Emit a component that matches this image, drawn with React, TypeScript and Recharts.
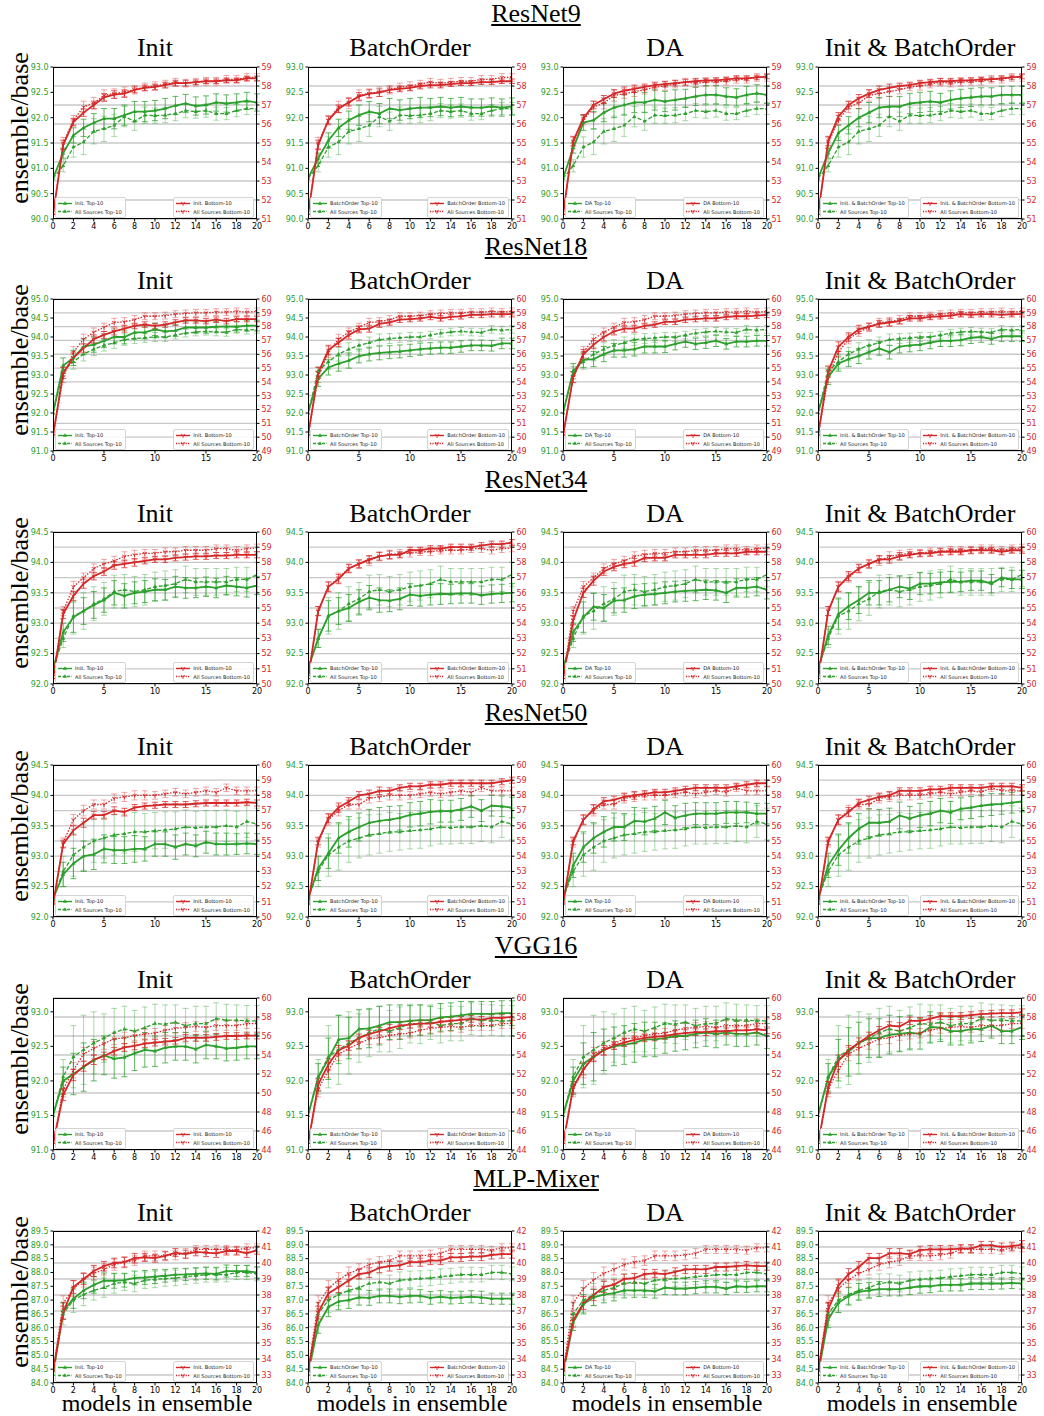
import React from 'react';
import { ComposedChart, Line, XAxis, YAxis, CartesianGrid, ErrorBar } from 'recharts';

const GREEN = '#2ca02c';
const RED = '#d62728';
const SERIF = '"Liberation Serif", "Times New Roman", serif';
const SANS = '"DejaVu Sans", sans-serif';

const models = [0, 1, 2, 3, 4, 5, 6, 7, 8, 9, 10, 11, 12, 13, 14, 15, 16, 17, 18, 19, 20];
const methodTitles = ['Init', 'BatchOrder', 'DA', 'Init & BatchOrder'];
const legendNames = ['Init.', 'BatchOrder', 'DA', 'Init. & BatchOrder'];
const xTicksEven = [0, 2, 4, 6, 8, 10, 12, 14, 16, 18, 20];
const xTicksFive = [0, 5, 10, 15, 20];

// ResNet9
const r9LeftTicks = [90, 90.5, 91, 91.5, 92, 92.5, 93];
const r9RightTicks = [51, 52, 53, 54, 55, 56, 57, 58, 59];
const r9AllTop = [90.8, 91.05, 91.42, 91.52, 91.73, 91.78, 91.85, 92.02, 91.93, 92.05, 92.04, 92.05, 92.08, 92.14, 92.12, 92.14, 92.08, 92.08, 92.14, 92.18, 92.18];
const r9AllBot = [51.2, 55.0, 56.2, 56.9, 57.1, 57.5, 57.6, 57.7, 57.8, 57.95, 58.0, 58.1, 58.2, 58.15, 58.2, 58.25, 58.25, 58.35, 58.35, 58.45, 58.45];
const r9InitTop = [90.8, 91.3, 91.65, 91.8, 91.9, 91.98, 91.98, 92.05, 92.12, 92.12, 92.14, 92.18, 92.24, 92.28, 92.23, 92.25, 92.3, 92.28, 92.3, 92.33, 92.3];
const r9InitBot = [51.2, 54.9, 56.1, 56.6, 57.0, 57.4, 57.55, 57.6, 57.8, 57.9, 57.95, 58.05, 58.15, 58.15, 58.2, 58.25, 58.25, 58.3, 58.3, 58.4, 58.4];
const r9BoTop = [90.8, 91.2, 91.55, 91.8, 91.95, 92.05, 92.12, 92.08, 92.18, 92.15, 92.18, 92.2, 92.2, 92.22, 92.2, 92.22, 92.2, 92.2, 92.22, 92.2, 92.22];
const r9BoBot = [51.2, 54.9, 56.2, 56.8, 57.15, 57.45, 57.6, 57.65, 57.8, 57.85, 57.9, 58.0, 58.05, 58.05, 58.1, 58.15, 58.15, 58.2, 58.2, 58.25, 58.25];
const r9DaTop = [90.8, 91.4, 91.9, 91.95, 92.1, 92.2, 92.25, 92.3, 92.3, 92.35, 92.32, 92.35, 92.38, 92.42, 92.45, 92.45, 92.42, 92.4, 92.45, 92.48, 92.45];
const r9DaBot = [51.2, 55.1, 56.3, 57.0, 57.3, 57.6, 57.75, 57.85, 57.95, 58.05, 58.1, 58.15, 58.2, 58.25, 58.3, 58.3, 58.35, 58.4, 58.4, 58.45, 58.5];
const r9IbTop = [90.8, 91.3, 91.7, 91.85, 92.0, 92.1, 92.2, 92.22, 92.22, 92.28, 92.3, 92.32, 92.3, 92.35, 92.38, 92.4, 92.42, 92.42, 92.45, 92.45, 92.45];
const r9IbBot = [51.2, 55.1, 56.4, 57.0, 57.35, 57.6, 57.8, 57.9, 58.0, 58.05, 58.15, 58.2, 58.25, 58.25, 58.3, 58.3, 58.35, 58.35, 58.4, 58.45, 58.5];
const r9ErrAllTop = [0, 0.12, 0.2, 0.25, 0.25, 0.25, 0.22, 0.2, 0.18, 0.16, 0.15, 0.15, 0.14, 0.14, 0.13, 0.13, 0.13, 0.12, 0.12, 0.12, 0.12];
const r9ErrAllBot = [0, 0.3, 0.25, 0.3, 0.3, 0.3, 0.25, 0.25, 0.22, 0.2, 0.22, 0.2, 0.2, 0.2, 0.2, 0.2, 0.2, 0.2, 0.2, 0.2, 0.2];
const r9ErrTop = [0, 0.1, 0.15, 0.17, 0.18, 0.2, 0.2, 0.2, 0.2, 0.2, 0.2, 0.2, 0.18, 0.18, 0.18, 0.18, 0.17, 0.17, 0.17, 0.17, 0.17];
const r9ErrBot = [0, 0.25, 0.2, 0.2, 0.2, 0.2, 0.2, 0.2, 0.15, 0.15, 0.15, 0.15, 0.15, 0.15, 0.12, 0.12, 0.12, 0.12, 0.12, 0.12, 0.12];

// ResNet18
const r18LeftTicks = [91, 91.5, 92, 92.5, 93, 93.5, 94, 94.5, 95];
const r18RightTicks = [49, 50, 51, 52, 53, 54, 55, 56, 57, 58, 59, 60];
const r18AllTop = [92.0, 93.1, 93.35, 93.55, 93.68, 93.78, 93.85, 93.93, 93.96, 93.98, 94.0, 94.0, 94.05, 94.1, 94.13, 94.15, 94.13, 94.12, 94.2, 94.18, 94.2];
const r18AllBot = [50.1, 54.35, 56.15, 57.1, 57.6, 57.95, 58.3, 58.35, 58.5, 58.75, 58.75, 58.8, 58.9, 58.95, 59.0, 59.0, 59.05, 59.05, 59.1, 59.05, 59.1];
const r18InitTop = [92.0, 93.25, 93.45, 93.75, 93.8, 93.9, 94.0, 94.0, 94.12, 94.12, 94.2, 94.15, 94.17, 94.25, 94.25, 94.25, 94.27, 94.28, 94.27, 94.3, 94.3];
const r18InitBot = [50.1, 54.65, 55.75, 56.45, 57.1, 57.4, 57.65, 57.85, 58.05, 58.15, 58.05, 58.15, 58.3, 58.45, 58.45, 58.4, 58.5, 58.4, 58.55, 58.55, 58.55];
const r18BoTop = [92.0, 92.9, 93.2, 93.3, 93.38, 93.5, 93.55, 93.58, 93.6, 93.62, 93.65, 93.68, 93.7, 93.72, 93.72, 93.75, 93.78, 93.78, 93.77, 93.83, 93.83];
const r18BoBot = [50.1, 54.65, 56.3, 56.85, 57.4, 57.8, 57.85, 58.2, 58.3, 58.5, 58.55, 58.6, 58.7, 58.6, 58.7, 58.75, 58.85, 58.85, 58.9, 58.9, 58.9];
const r18DaTop = [92.0, 93.1, 93.4, 93.42, 93.55, 93.65, 93.65, 93.68, 93.75, 93.75, 93.75, 93.82, 93.88, 93.82, 93.85, 93.9, 93.82, 93.88, 93.88, 93.9, 93.9];
const r18DaBot = [50.1, 54.35, 56.0, 56.7, 57.25, 57.65, 57.85, 57.85, 58.05, 58.15, 58.35, 58.35, 58.5, 58.55, 58.6, 58.6, 58.7, 58.75, 58.75, 58.8, 58.85];
const r18IbTop = [92.0, 92.95, 93.3, 93.42, 93.5, 93.6, 93.7, 93.6, 93.75, 93.78, 93.8, 93.85, 93.9, 93.9, 93.92, 93.98, 94.0, 93.95, 94.02, 94.02, 94.02];
const r18IbBot = [50.1, 54.75, 56.55, 57.25, 57.8, 58.0, 58.2, 58.3, 58.4, 58.6, 58.6, 58.7, 58.75, 58.8, 58.9, 58.85, 58.9, 58.9, 58.85, 58.9, 58.9];
const r18ErrAllTop = [0, 0.12, 0.2, 0.18, 0.17, 0.15, 0.15, 0.15, 0.13, 0.12, 0.12, 0.12, 0.1, 0.1, 0.1, 0.1, 0.1, 0.1, 0.1, 0.1, 0.1];
const r18ErrAllBot = [0, 0.4, 0.4, 0.35, 0.3, 0.3, 0.3, 0.3, 0.3, 0.25, 0.25, 0.25, 0.25, 0.25, 0.25, 0.25, 0.25, 0.25, 0.25, 0.25, 0.25];
const r18ErrTop = [0, 0.2, 0.2, 0.2, 0.2, 0.18, 0.18, 0.18, 0.17, 0.17, 0.16, 0.16, 0.15, 0.15, 0.15, 0.15, 0.14, 0.14, 0.14, 0.14, 0.14];
const r18ErrBot = [0, 0.4, 0.35, 0.3, 0.3, 0.25, 0.25, 0.25, 0.2, 0.2, 0.2, 0.2, 0.2, 0.2, 0.2, 0.2, 0.2, 0.2, 0.2, 0.2, 0.2];

// ResNet34
const r34LeftTicks = [92, 92.5, 93, 93.5, 94, 94.5];
const r34RightTicks = [50, 51, 52, 53, 54, 55, 56, 57, 58, 59, 60];
const r34AllTop = [92.25, 92.75, 93.12, 93.2, 93.32, 93.4, 93.52, 93.55, 93.52, 93.55, 93.6, 93.62, 93.65, 93.72, 93.68, 93.68, 93.68, 93.68, 93.72, 93.72, 93.8];
const r34AllBot = [50.3, 54.8, 56.4, 57.0, 57.6, 57.9, 58.1, 58.4, 58.5, 58.6, 58.6, 58.7, 58.7, 58.8, 58.8, 58.8, 58.9, 58.9, 58.8, 58.9, 58.95];
const r34InitTop = [92.25, 92.85, 93.1, 93.2, 93.3, 93.38, 93.5, 93.45, 93.5, 93.52, 93.55, 93.55, 93.6, 93.58, 93.58, 93.6, 93.58, 93.62, 93.6, 93.58, 93.62];
const r34InitBot = [50.3, 54.6, 55.8, 56.6, 57.1, 57.4, 57.8, 57.9, 58.0, 58.1, 58.2, 58.2, 58.3, 58.35, 58.4, 58.4, 58.45, 58.45, 58.5, 58.5, 58.5];
const r34BoTop = [92.25, 92.75, 93.12, 93.2, 93.25, 93.35, 93.42, 93.38, 93.37, 93.4, 93.47, 93.45, 93.47, 93.48, 93.48, 93.49, 93.49, 93.46, 93.48, 93.49, 93.5];
const r34BoBot = [50.3, 54.8, 56.4, 56.9, 57.6, 57.9, 58.2, 58.4, 58.5, 58.5, 58.8, 58.8, 58.9, 58.9, 59.0, 59.0, 59.0, 59.1, 59.2, 59.2, 59.3];
const r34DaTop = [92.25, 92.85, 93.1, 93.27, 93.25, 93.37, 93.38, 93.44, 93.47, 93.48, 93.5, 93.52, 93.53, 93.54, 93.55, 93.54, 93.5, 93.58, 93.58, 93.6, 93.55];
const r34DaBot = [50.3, 54.2, 56.0, 56.8, 57.4, 57.7, 57.9, 58.0, 58.3, 58.3, 58.3, 58.5, 58.5, 58.5, 58.5, 58.6, 58.6, 58.6, 58.7, 58.7, 58.7];
const r34IbTop = [92.25, 92.8, 93.15, 93.28, 93.38, 93.5, 93.5, 93.55, 93.6, 93.57, 93.65, 93.65, 93.67, 93.68, 93.68, 93.7, 93.7, 93.65, 93.75, 93.72, 93.72];
const r34IbBot = [50.3, 54.8, 56.4, 57.1, 57.6, 57.9, 58.2, 58.2, 58.4, 58.5, 58.6, 58.6, 58.7, 58.7, 58.7, 58.8, 58.8, 58.8, 58.7, 58.8, 58.8];
const r34ErrAllTop = [0, 0.15, 0.3, 0.3, 0.28, 0.27, 0.27, 0.25, 0.25, 0.25, 0.24, 0.24, 0.23, 0.22, 0.22, 0.22, 0.22, 0.22, 0.2, 0.2, 0.2];
const r34ErrAllBot = [0, 0.3, 0.35, 0.3, 0.3, 0.3, 0.3, 0.3, 0.3, 0.25, 0.25, 0.25, 0.25, 0.25, 0.25, 0.25, 0.25, 0.25, 0.25, 0.25, 0.25];
const r34ErrTop = [0, 0.15, 0.25, 0.22, 0.22, 0.2, 0.2, 0.2, 0.18, 0.18, 0.18, 0.17, 0.17, 0.17, 0.16, 0.16, 0.16, 0.15, 0.15, 0.15, 0.15];
const r34ErrBot = [0, 0.3, 0.3, 0.3, 0.25, 0.25, 0.25, 0.25, 0.25, 0.2, 0.2, 0.2, 0.2, 0.2, 0.2, 0.2, 0.2, 0.2, 0.2, 0.2, 0.2];

// ResNet50
const r50LeftTicks = [92, 92.5, 93, 93.5, 94, 94.5];
const r50RightTicks = [50, 51, 52, 53, 54, 55, 56, 57, 58, 59, 60];
const r50AllTop = [92.3, 92.75, 93.02, 93.15, 93.25, 93.3, 93.35, 93.37, 93.4, 93.4, 93.42, 93.43, 93.45, 93.48, 93.47, 93.48, 93.48, 93.5, 93.48, 93.57, 93.53];
const r50AllBot = [50.8, 54.9, 56.4, 57.0, 57.4, 57.4, 57.8, 57.9, 58.0, 58.0, 58.0, 58.1, 58.2, 58.1, 58.2, 58.3, 58.2, 58.5, 58.3, 58.3, 58.3];
const r50InitTop = [92.3, 92.7, 92.88, 93.0, 93.03, 93.12, 93.1, 93.1, 93.12, 93.12, 93.2, 93.2, 93.15, 93.2, 93.17, 93.23, 93.2, 93.2, 93.2, 93.21, 93.2];
const r50InitBot = [50.8, 54.8, 55.7, 56.2, 56.7, 56.7, 57.0, 56.9, 57.2, 57.3, 57.35, 57.4, 57.4, 57.4, 57.45, 57.5, 57.5, 57.5, 57.5, 57.55, 57.5];
const r50BoTop = [92.3, 92.8, 93.05, 93.3, 93.4, 93.48, 93.55, 93.58, 93.6, 93.63, 93.68, 93.7, 93.73, 93.74, 93.74, 93.77, 93.82, 93.75, 93.83, 93.82, 93.8];
const r50BoBot = [50.8, 55.0, 56.5, 57.2, 57.6, 58.0, 58.1, 58.3, 58.3, 58.5, 58.6, 58.6, 58.7, 58.7, 58.8, 58.8, 58.8, 58.8, 58.8, 58.9, 59.0];
const r50DaTop = [92.3, 92.85, 93.15, 93.3, 93.4, 93.48, 93.48, 93.58, 93.57, 93.62, 93.72, 93.63, 93.67, 93.7, 93.7, 93.7, 93.72, 93.72, 93.72, 93.7, 93.7];
const r50DaBot = [50.8, 55.0, 56.4, 57.1, 57.6, 57.7, 57.9, 58.0, 58.1, 58.2, 58.2, 58.3, 58.4, 58.5, 58.5, 58.5, 58.5, 58.6, 58.7, 58.8, 58.8];
const r50IbTop = [92.3, 92.85, 93.1, 93.3, 93.45, 93.55, 93.55, 93.57, 93.67, 93.62, 93.67, 93.7, 93.75, 93.72, 93.78, 93.8, 93.83, 93.85, 93.86, 93.88, 93.9];
const r50IbBot = [50.8, 55.0, 56.4, 56.9, 57.5, 57.7, 57.9, 58.0, 58.3, 58.3, 58.3, 58.4, 58.4, 58.5, 58.5, 58.5, 58.5, 58.6, 58.6, 58.6, 58.5];
const r50ErrAllTop = [0, 0.25, 0.35, 0.38, 0.35, 0.33, 0.33, 0.32, 0.32, 0.3, 0.3, 0.3, 0.28, 0.28, 0.27, 0.27, 0.27, 0.26, 0.26, 0.26, 0.26];
const r50ErrAllBot = [0, 0.3, 0.35, 0.35, 0.3, 0.3, 0.3, 0.3, 0.3, 0.3, 0.25, 0.25, 0.25, 0.25, 0.25, 0.25, 0.25, 0.25, 0.25, 0.25, 0.25];
const r50ErrTop = [0, 0.2, 0.25, 0.25, 0.25, 0.23, 0.22, 0.22, 0.22, 0.2, 0.2, 0.2, 0.2, 0.18, 0.18, 0.18, 0.18, 0.18, 0.17, 0.17, 0.17];
const r50ErrBot = [0, 0.25, 0.3, 0.3, 0.25, 0.25, 0.25, 0.25, 0.2, 0.2, 0.2, 0.2, 0.2, 0.2, 0.2, 0.2, 0.2, 0.2, 0.2, 0.2, 0.2];

// VGG16
const vggLeftTicks = [91, 91.5, 92, 92.5, 93];
const vggRightTicks = [44, 46, 48, 50, 52, 54, 56, 58, 60];
const vggAllTop = [91.5, 92.06, 92.35, 92.45, 92.55, 92.62, 92.7, 92.75, 92.72, 92.77, 92.83, 92.82, 92.85, 92.8, 92.83, 92.83, 92.9, 92.88, 92.88, 92.87, 92.87];
const vggAllBot = [44.6, 50.4, 52.4, 54.1, 54.7, 55.2, 55.7, 55.8, 56.05, 56.2, 56.3, 56.6, 56.8, 56.9, 57.0, 56.9, 57.1, 57.1, 57.1, 57.3, 57.3];
const vggInitTop = [91.5, 92.0, 92.1, 92.2, 92.3, 92.37, 92.32, 92.34, 92.4, 92.45, 92.43, 92.48, 92.5, 92.5, 92.46, 92.52, 92.5, 92.47, 92.48, 92.5, 92.5];
const vggInitBot = [44.6, 49.8, 51.9, 52.8, 53.5, 53.9, 54.4, 54.8, 54.95, 55.2, 55.3, 55.4, 55.5, 55.8, 55.8, 55.8, 55.9, 56.0, 56.0, 56.05, 56.05];
const vggBoTop = [91.5, 92.05, 92.32, 92.6, 92.62, 92.75, 92.76, 92.8, 92.85, 92.85, 92.87, 92.88, 92.88, 92.92, 92.93, 92.95, 92.97, 92.97, 92.97, 92.98, 92.98];
const vggBoBot = [44.6, 50.9, 53.0, 54.5, 55.0, 55.8, 56.2, 56.5, 56.8, 57.1, 57.2, 57.3, 57.3, 57.5, 57.6, 57.7, 57.8, 57.7, 57.9, 57.9, 58.0];
const vggDaTop = [91.5, 92.0, 92.25, 92.35, 92.45, 92.5, 92.52, 92.55, 92.6, 92.6, 92.62, 92.65, 92.65, 92.68, 92.7, 92.68, 92.7, 92.68, 92.68, 92.7, 92.65];
const vggDaBot = [44.6, 50.6, 52.5, 53.8, 54.5, 55.0, 55.3, 55.6, 55.8, 55.9, 56.0, 56.2, 56.3, 56.4, 56.4, 56.5, 56.5, 56.6, 56.6, 56.7, 56.6];
const vggIbTop = [91.5, 92.05, 92.3, 92.42, 92.55, 92.62, 92.62, 92.67, 92.68, 92.7, 92.68, 92.78, 92.77, 92.72, 92.72, 92.75, 92.75, 92.8, 92.72, 92.72, 92.78];
const vggIbBot = [44.6, 50.6, 53.4, 54.5, 55.3, 56.0, 56.6, 57.1, 57.0, 57.6, 57.6, 57.8, 58.1, 58.1, 58.1, 58.2, 58.3, 58.35, 58.4, 58.4, 58.5];
const vggErrAllTop = [0, 0.25, 0.45, 0.5, 0.45, 0.35, 0.35, 0.33, 0.3, 0.3, 0.28, 0.28, 0.25, 0.25, 0.25, 0.25, 0.23, 0.23, 0.22, 0.22, 0.22];
const vggErrAllBot = [0, 0.8, 0.8, 0.7, 0.7, 0.6, 0.6, 0.6, 0.5, 0.5, 0.5, 0.5, 0.5, 0.5, 0.5, 0.5, 0.5, 0.5, 0.5, 0.5, 0.5];
const vggErrTop = [0, 0.2, 0.3, 0.35, 0.3, 0.28, 0.28, 0.28, 0.25, 0.25, 0.22, 0.22, 0.2, 0.2, 0.2, 0.2, 0.18, 0.18, 0.18, 0.18, 0.18];
const vggErrBot = [0, 0.6, 0.6, 0.5, 0.5, 0.4, 0.4, 0.4, 0.4, 0.4, 0.35, 0.35, 0.35, 0.35, 0.35, 0.35, 0.35, 0.35, 0.35, 0.35, 0.35];

// MLP-Mixer
const mlpLeftTicks = [84, 84.5, 85, 85.5, 86, 86.5, 87, 87.5, 88, 88.5, 89, 89.5];
const mlpRightTicks = [33, 34, 35, 36, 37, 38, 39, 40, 41, 42];
const mlpAllTop = [84.3, 86.5, 87.0, 87.2, 87.35, 87.45, 87.6, 87.65, 87.6, 87.72, 87.75, 87.78, 87.8, 87.85, 87.88, 87.92, 87.92, 87.92, 88.0, 88.0, 87.95];
const mlpAllBot = [33.2, 37.5, 38.4, 38.95, 39.35, 39.6, 39.9, 40.05, 40.15, 40.45, 40.45, 40.45, 40.5, 40.6, 40.85, 40.85, 40.85, 40.85, 40.8, 40.95, 40.95];
const mlpInitTop = [84.3, 86.6, 87.05, 87.35, 87.55, 87.7, 87.7, 87.72, 87.8, 87.82, 87.85, 87.88, 87.92, 87.93, 87.95, 87.97, 87.95, 88.05, 88.05, 88.05, 88.0];
const mlpInitBot = [33.2, 36.9, 38.5, 39.0, 39.5, 39.8, 40.0, 40.05, 40.3, 40.35, 40.3, 40.45, 40.65, 40.55, 40.7, 40.65, 40.6, 40.75, 40.75, 40.6, 40.8];
const mlpBoTop = [84.3, 86.1, 86.75, 86.95, 87.0, 87.1, 87.08, 87.15, 87.15, 87.12, 87.15, 87.15, 87.08, 87.12, 87.08, 87.1, 87.12, 87.1, 87.05, 87.05, 87.05];
const mlpBoBot = [33.2, 36.9, 38.1, 38.5, 38.9, 39.3, 39.4, 39.7, 39.8, 39.85, 40.05, 40.05, 40.15, 40.15, 40.35, 40.35, 40.4, 40.4, 40.5, 40.55, 40.55];
const mlpDaTop = [84.3, 86.2, 86.85, 87.1, 87.2, 87.25, 87.35, 87.35, 87.35, 87.32, 87.45, 87.42, 87.42, 87.45, 87.48, 87.48, 87.42, 87.5, 87.48, 87.5, 87.5];
const mlpDaBot = [33.2, 36.4, 37.5, 38.0, 38.5, 38.65, 39.0, 39.05, 39.3, 39.35, 39.3, 39.45, 39.6, 39.6, 39.6, 39.75, 39.75, 39.8, 39.85, 39.8, 39.8];
const mlpIbTop = [84.3, 86.3, 86.9, 87.15, 87.3, 87.35, 87.4, 87.4, 87.4, 87.45, 87.5, 87.5, 87.55, 87.55, 87.55, 87.6, 87.6, 87.6, 87.6, 87.62, 87.6];
const mlpIbBot = [33.2, 37.1, 38.6, 39.3, 39.75, 40.3, 40.3, 40.6, 40.6, 40.55, 40.8, 40.85, 40.85, 40.85, 40.9, 40.9, 41.1, 41.1, 41.0, 41.05, 41.15];
const mlpErrAllTop = [0, 0.4, 0.45, 0.4, 0.35, 0.35, 0.35, 0.3, 0.3, 0.3, 0.3, 0.28, 0.28, 0.28, 0.27, 0.27, 0.27, 0.26, 0.26, 0.26, 0.25];
const mlpErrAllBot = [0, 0.45, 0.5, 0.45, 0.4, 0.35, 0.35, 0.35, 0.3, 0.3, 0.3, 0.3, 0.3, 0.3, 0.25, 0.25, 0.25, 0.25, 0.25, 0.25, 0.25];
const mlpErrTop = [0, 0.3, 0.35, 0.3, 0.3, 0.28, 0.27, 0.25, 0.25, 0.25, 0.25, 0.23, 0.23, 0.22, 0.22, 0.22, 0.22, 0.22, 0.2, 0.2, 0.2];
const mlpErrBot = [0, 0.4, 0.4, 0.35, 0.35, 0.3, 0.3, 0.3, 0.3, 0.25, 0.25, 0.25, 0.25, 0.25, 0.25, 0.25, 0.25, 0.25, 0.25, 0.25, 0.25];

const rows = [
  { title: 'ResNet9', left: [90, 93], leftTicks: r9LeftTicks, right: [51, 59], rightTicks: r9RightTicks, xTicks: xTicksEven,
    allTop: r9AllTop, allBot: r9AllBot, errAllTop: r9ErrAllTop, errAllBot: r9ErrAllBot, errTop: r9ErrTop, errBot: r9ErrBot,
    top: [r9InitTop, r9BoTop, r9DaTop, r9IbTop], bot: [r9InitBot, r9BoBot, r9DaBot, r9IbBot] },
  { title: 'ResNet18', left: [91, 95], leftTicks: r18LeftTicks, right: [49, 60], rightTicks: r18RightTicks, xTicks: xTicksFive,
    allTop: r18AllTop, allBot: r18AllBot, errAllTop: r18ErrAllTop, errAllBot: r18ErrAllBot, errTop: r18ErrTop, errBot: r18ErrBot,
    top: [r18InitTop, r18BoTop, r18DaTop, r18IbTop], bot: [r18InitBot, r18BoBot, r18DaBot, r18IbBot] },
  { title: 'ResNet34', left: [92, 94.5], leftTicks: r34LeftTicks, right: [50, 60], rightTicks: r34RightTicks, xTicks: xTicksFive,
    allTop: r34AllTop, allBot: r34AllBot, errAllTop: r34ErrAllTop, errAllBot: r34ErrAllBot, errTop: r34ErrTop, errBot: r34ErrBot,
    top: [r34InitTop, r34BoTop, r34DaTop, r34IbTop], bot: [r34InitBot, r34BoBot, r34DaBot, r34IbBot] },
  { title: 'ResNet50', left: [92, 94.5], leftTicks: r50LeftTicks, right: [50, 60], rightTicks: r50RightTicks, xTicks: xTicksFive,
    allTop: r50AllTop, allBot: r50AllBot, errAllTop: r50ErrAllTop, errAllBot: r50ErrAllBot, errTop: r50ErrTop, errBot: r50ErrBot,
    top: [r50InitTop, r50BoTop, r50DaTop, r50IbTop], bot: [r50InitBot, r50BoBot, r50DaBot, r50IbBot] },
  { title: 'VGG16', left: [91, 93.2], leftTicks: vggLeftTicks, right: [44, 60], rightTicks: vggRightTicks, xTicks: xTicksEven,
    allTop: vggAllTop, allBot: vggAllBot, errAllTop: vggErrAllTop, errAllBot: vggErrAllBot, errTop: vggErrTop, errBot: vggErrBot,
    top: [vggInitTop, vggBoTop, vggDaTop, vggIbTop], bot: [vggInitBot, vggBoBot, vggDaBot, vggIbBot] },
  { title: 'MLP-Mixer', left: [84, 89.5], leftTicks: mlpLeftTicks, right: [32.5, 42], rightTicks: mlpRightTicks, xTicks: xTicksEven,
    allTop: mlpAllTop, allBot: mlpAllBot, errAllTop: mlpErrAllTop, errAllBot: mlpErrAllBot, errTop: mlpErrTop, errBot: mlpErrBot,
    top: [mlpInitTop, mlpBoTop, mlpDaTop, mlpIbTop], bot: [mlpInitBot, mlpBoBot, mlpDaBot, mlpIbBot] },
];

// layout
const PLOT_W = 204;
const PLOT_H = 152;
const colLeft = [53, 308, 563, 818];
const rowTop = [67, 299, 532, 765, 998, 1231];
const AXIS_L = 30;
const AXIS_R = 22;
const MARGIN_T = 4;
const X_H = 16;

const triUp = (color: string) => (p: any) => {
  if (p.cx == null || p.cy == null) return <g key={`u${p.index}`} />;
  const { cx, cy } = p;
  return <path key={`u${p.index}`} d={`M${cx},${cy - 2.3}L${cx + 2},${cy + 1.3}L${cx - 2},${cy + 1.3}Z`} fill={color} stroke="none" />;
};

const triDown = (color: string) => (p: any) => {
  if (p.cx == null || p.cy == null) return <g key={`d${p.index}`} />;
  const { cx, cy } = p;
  return (
    <path key={`d${p.index}`} d={`M${cx},${cy}L${cx},${cy + 2.4}M${cx},${cy}L${cx - 2.1},${cy - 1.2}M${cx},${cy}L${cx + 2.1},${cy - 1.2}`}
      stroke={color} strokeWidth={0.9} fill="none" />
  );
};

function Sample({ color, dash, up }: { color: string; dash?: string; up: boolean }) {
  return (
    <svg width={14} height={7} style={{ display: 'block', flex: 'none' }}>
      <line x1={0} y1={3.5} x2={14} y2={3.5} stroke={color} strokeWidth={1.4} strokeDasharray={dash} />
      {up
        ? <path d="M7,1.2L9,4.8L5,4.8Z" fill={color} />
        : <path d="M7,3.5L7,5.9M7,3.5L4.9,2.3M7,3.5L9.1,2.3" stroke={color} strokeWidth={0.9} fill="none" />}
    </svg>
  );
}

function LegendBox({ items, style }: { items: { label: string; color: string; dash?: string; up: boolean }[]; style: React.CSSProperties }) {
  return (
    <div style={{
      position: 'absolute', border: '1px solid #d4d4d4', borderRadius: 2, background: 'rgba(255,255,255,0.85)',
      padding: '1px 3px 1px 2px', fontFamily: SANS, fontSize: 5.1, color: '#222', lineHeight: '8.5px', ...style,
    }}>
      {items.map((it) => (
        <div key={it.label} style={{ display: 'flex', alignItems: 'center', whiteSpace: 'nowrap' }}>
          <Sample color={it.color} dash={it.dash} up={it.up} />
          <span style={{ marginLeft: 3 }}>{it.label}</span>
        </div>
      ))}
    </div>
  );
}

function Panel({ ri, ci }: { ri: number; ci: number }) {
  const row = rows[ri];
  const top = row.top[ci];
  const bot = row.bot[ci];
  const data = models.map((x, i) => ({
    x,
    at: row.allTop[i], ate: row.errAllTop[i],
    mt: top[i], mte: row.errTop[i],
    ab: row.allBot[i], abe: row.errAllBot[i],
    mb: bot[i], mbe: row.errBot[i],
  }));
  const pl = colLeft[ci];
  const pt = rowTop[ri];
  const name = legendNames[ci];
  const tickStyle = { fontSize: 8, fontFamily: SANS };
  return (
    <>
      <div style={{ position: 'absolute', left: pl - AXIS_L, top: pt - MARGIN_T }}>
        <ComposedChart width={AXIS_L + PLOT_W + AXIS_R} height={MARGIN_T + PLOT_H + X_H} data={data}
          margin={{ top: MARGIN_T, right: 0, bottom: 0, left: 0 }}>
          <CartesianGrid yAxisId="r" vertical={false} stroke="#c8c8c8" strokeWidth={1.3} />
          <XAxis dataKey="x" type="number" domain={[0, 20]} ticks={row.xTicks} interval={0} height={X_H}
            axisLine={false} tickSize={2.5} tickLine={{ stroke: '#000' }} tick={{ ...tickStyle, fill: '#000' }} allowDataOverflow />
          <YAxis yAxisId="l" domain={row.left} ticks={row.leftTicks} interval={0} width={AXIS_L}
            axisLine={false} tickSize={2.5} tickLine={{ stroke: '#000' }} tick={{ ...tickStyle, fill: GREEN }}
            tickFormatter={(v: number) => v.toFixed(1)} allowDataOverflow />
          <YAxis yAxisId="r" orientation="right" domain={row.right} ticks={row.rightTicks} interval={0} width={AXIS_R}
            axisLine={false} tickSize={2.5} tickLine={{ stroke: '#000' }} tick={{ ...tickStyle, fill: RED }} allowDataOverflow />
          <Line yAxisId="l" dataKey="at" type="linear" stroke={GREEN} strokeWidth={1.3} strokeDasharray="4 2"
            dot={triUp(GREEN)} activeDot={false} isAnimationActive={false}>
            <ErrorBar dataKey="ate" width={3} stroke="rgba(44,160,44,0.4)" strokeWidth={1} direction="y" isAnimationActive={false} />
          </Line>
          <Line yAxisId="l" dataKey="mt" type="linear" stroke={GREEN} strokeWidth={1.8}
            dot={triUp(GREEN)} activeDot={false} isAnimationActive={false}>
            <ErrorBar dataKey="mte" width={3} stroke="rgba(44,160,44,0.75)" strokeWidth={1} direction="y" isAnimationActive={false} />
          </Line>
          <Line yAxisId="r" dataKey="ab" type="linear" stroke={RED} strokeWidth={1.3} strokeDasharray="1.5 1.5"
            dot={triDown(RED)} activeDot={false} isAnimationActive={false}>
            <ErrorBar dataKey="abe" width={3} stroke="rgba(214,39,40,0.4)" strokeWidth={1} direction="y" isAnimationActive={false} />
          </Line>
          <Line yAxisId="r" dataKey="mb" type="linear" stroke={RED} strokeWidth={1.8}
            dot={triDown(RED)} activeDot={false} isAnimationActive={false}>
            <ErrorBar dataKey="mbe" width={3} stroke="rgba(214,39,40,0.75)" strokeWidth={1} direction="y" isAnimationActive={false} />
          </Line>
        </ComposedChart>
      </div>
      <div style={{
        position: 'absolute', left: pl, top: pt, width: PLOT_W, height: PLOT_H, boxSizing: 'border-box',
        border: '1px solid #000', borderRightWidth: 1.5, pointerEvents: 'none',
      }} />
      <LegendBox style={{ left: pl + 2, top: pt + PLOT_H - 22 }} items={[
        { label: `${name} Top-10`, color: GREEN, up: true },
        { label: 'All Sources Top-10', color: GREEN, dash: '3 1.5', up: true },
      ]} />
      <LegendBox style={{ right: 1044 - (pl + PLOT_W) + 3, top: pt + PLOT_H - 22 }} items={[
        { label: `${name} Bottom-10`, color: RED, up: false },
        { label: 'All Sources Bottom-10', color: RED, dash: '1.2 1.2', up: false },
      ]} />
      <div style={{
        position: 'absolute', left: pl + PLOT_W / 2 - 150, width: 300, top: 34 + 233 * ri, textAlign: 'center',
        fontFamily: SERIF, fontSize: 26, lineHeight: '28px', color: '#000',
      }}>{methodTitles[ci]}</div>
    </>
  );
}

export default function App() {
  return (
    <div style={{ position: 'relative', width: 1044, height: 1416, background: '#fff', overflow: 'hidden' }}>
      <style>{'body{margin:0;}'}</style>
      {rows.map((row, ri) => (
        <React.Fragment key={row.title}>
          <div style={{
            position: 'absolute', left: 536 - 200, width: 400, top: 233 * ri, textAlign: 'center',
            fontFamily: SERIF, fontSize: 26, lineHeight: '28px', textDecoration: 'underline', color: '#000',
          }}>{row.title}</div>
          <div style={{
            position: 'absolute', left: 20, top: rowTop[ri] + 61, transform: 'translate(-50%, -50%) rotate(-90deg)',
            fontFamily: SERIF, fontSize: 26, whiteSpace: 'nowrap', color: '#000', lineHeight: '28px',
          }}>ensemble/base</div>
          {colLeft.map((_, ci) => <Panel key={ci} ri={ri} ci={ci} />)}
        </React.Fragment>
      ))}
      {colLeft.map((pl) => (
        <div key={pl} style={{
          position: 'absolute', left: pl + 104 - 150, width: 300, top: 1389, textAlign: 'center',
          fontFamily: SERIF, fontSize: 24, lineHeight: '28px', color: '#000',
        }}>models in ensemble</div>
      ))}
    </div>
  );
}
